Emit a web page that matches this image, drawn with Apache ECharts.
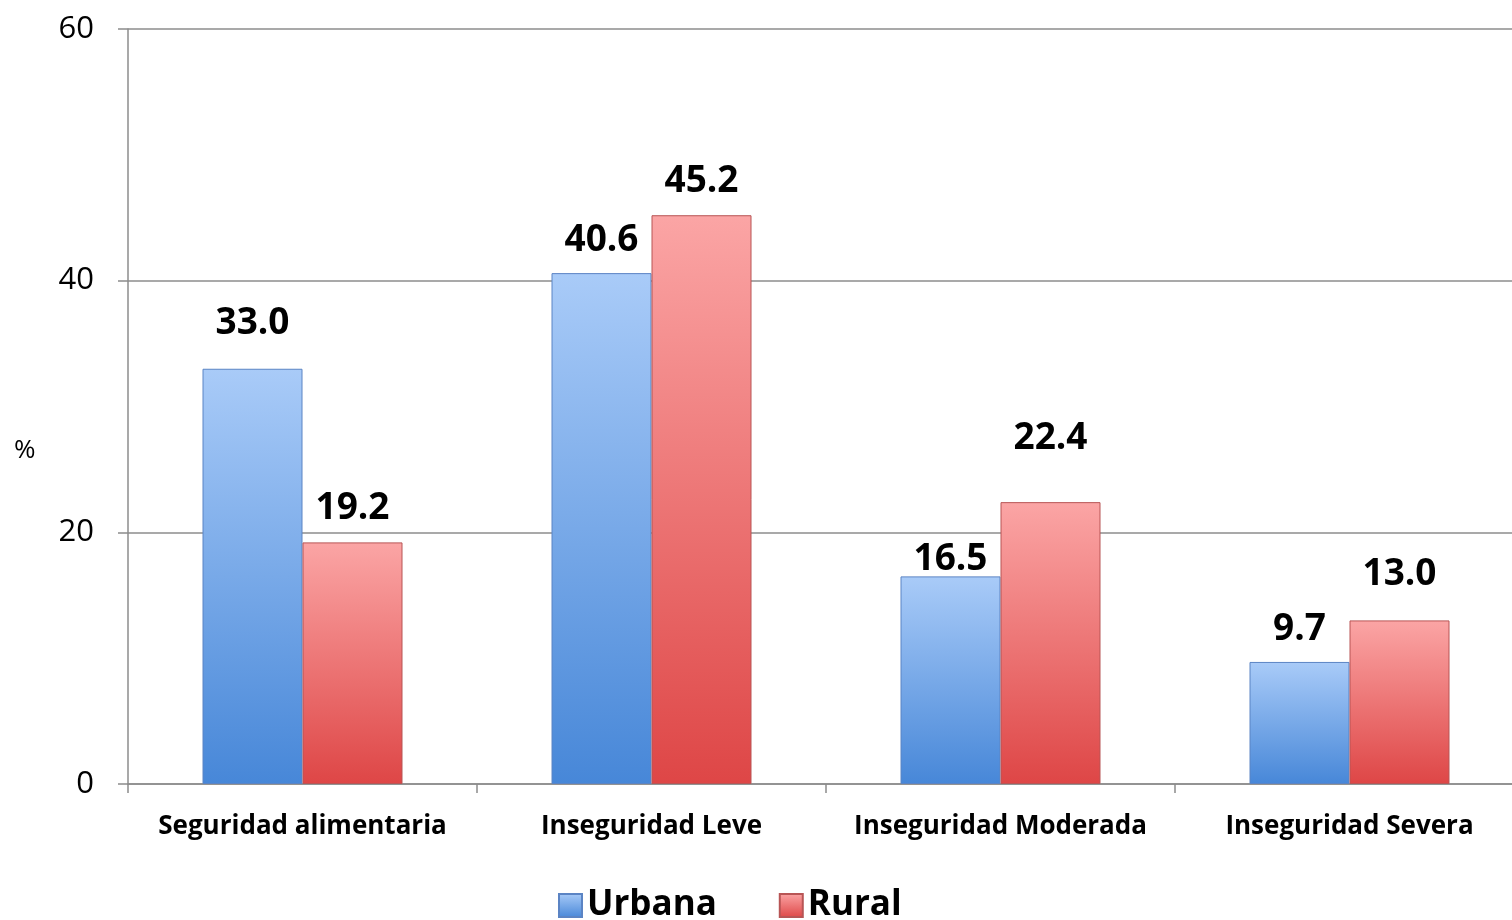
<!DOCTYPE html>
<html>
<head>
<meta charset="utf-8">
<script src="https://cdn.jsdelivr.net/npm/echarts@6/dist/echarts.min.js"></script>
<style>
  html, body { margin: 0; padding: 0; background: #fff; }
  #chart { width: 1512px; height: 920px; }
</style>
</head>
<body>
<div id="chart"></div>
<script>
// datos
var categorias = ['Seguridad alimentaria', 'Inseguridad Leve', 'Inseguridad Moderada', 'Inseguridad Severa'];
var urbana = [33.0, 40.6, 16.5, 9.7];
var rural = [19.2, 45.2, 22.4, 13.0];
var ticksY = [0, 20, 40, 60];

// separación de las etiquetas sobre cada barra (px)
var sepUrbana = [27, 14, -2, 14];
var sepRural = [15, 15, 45, 27];

var chart = echarts.init(document.getElementById('chart'));

function degradado(claro, oscuro) {
    return new echarts.graphic.LinearGradient(0, 0, 0, 1, [
        {offset: 0, color: claro},
        {offset: 1, color: oscuro}
    ]);
}

var azul = degradado('#a9cbf8', '#4787d8');
var rojo = degradado('#fba5a5', '#de4646');

function filas(valores, seps) {
    return valores.map(function (v, i) {
        return {value: v, label: {distance: seps[i]}};
    });
}

var etiqueta = {
    show: true,
    position: 'top',
    formatter: function (p) { return p.value.toFixed(1); },
    fontFamily: 'Open Sans',
    fontWeight: 'bold',
    fontSize: 37,
    color: '#000'
};

var option = {
    backgroundColor: '#fff',
    animation: false,
    grid: {left: 128, width: 1396, top: 29, bottom: 136, outerBoundsMode: 'none'},
    graphic: [{
        type: 'text',
        left: 14,
        top: 438,
        style: {text: '%', fontFamily: 'Open Sans', fontSize: 26, fill: '#000'}
    }],
    legend: {
        bottom: -8,
        left: 553,
        icon: 'rect',
        itemWidth: 23,
        itemHeight: 23,
        itemGap: 62,
        textStyle: {fontFamily: 'Open Sans', fontWeight: 'bold', fontSize: 35, color: '#000'},
        data: ['Urbana', 'Rural']
    },
    xAxis: {
        type: 'category',
        data: categorias,
        axisLine: {lineStyle: {color: '#8c8c8c', width: 1.5}},
        axisTick: {show: true, interval: 0, length: 9, lineStyle: {color: '#8c8c8c', width: 1.5}},
        axisLabel: {
            interval: 0,
            margin: 30,
            fontFamily: 'Open Sans',
            fontWeight: 'bold',
            fontSize: 26,
            color: '#000'
        }
    },
    yAxis: {
        type: 'value',
        min: ticksY[0],
        max: ticksY[ticksY.length - 1],
        interval: 20,
        axisLine: {show: true, lineStyle: {color: '#8c8c8c', width: 1.5}},
        axisTick: {show: true, length: 10, lineStyle: {color: '#8c8c8c', width: 1.5}},
        axisLabel: {margin: 34, fontFamily: 'Open Sans', fontSize: 31, color: '#000'},
        splitLine: {lineStyle: {color: '#8c8c8c', width: 1.5}}
    },
    series: [
        {
            name: 'Urbana',
            type: 'bar',
            barWidth: 100,
            barGap: '0%',
            data: filas(urbana, sepUrbana),
            itemStyle: {color: azul, borderColor: '#5b84c4', borderWidth: 1},
            label: etiqueta
        },
        {
            name: 'Rural',
            type: 'bar',
            barWidth: 100,
            barGap: '0%',
            data: filas(rural, sepRural),
            itemStyle: {color: rojo, borderColor: '#b85555', borderWidth: 1},
            label: etiqueta
        }
    ]
};

chart.setOption(option);
</script>
</body>
</html>
